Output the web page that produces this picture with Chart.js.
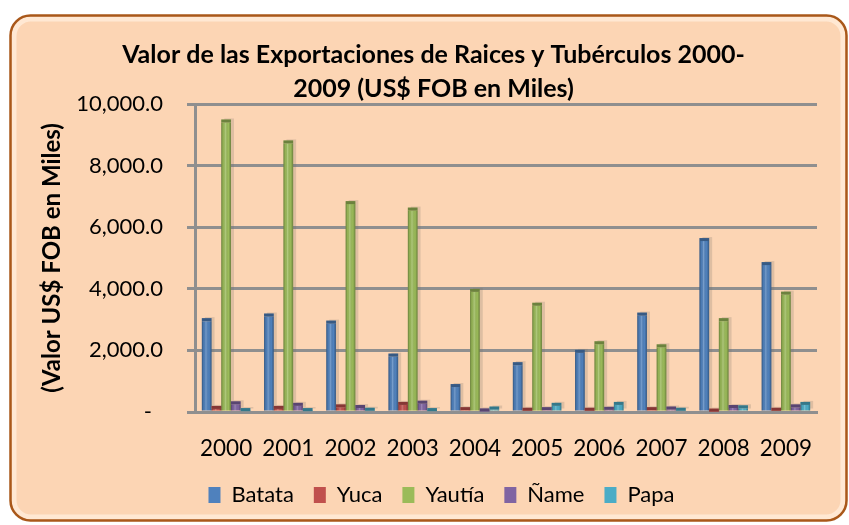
<!DOCTYPE html>
<html>
<head>
<meta charset="utf-8">
<script src="https://cdn.jsdelivr.net/npm/chart.js@4.4.1/dist/chart.umd.min.js"></script>
<style>
  html, body { margin: 0; padding: 0; background: #fff; }
  canvas { display: block; }
</style>
</head>
<body>
<canvas id="chart" width="849" height="525"></canvas>
<script>
const years = ["2000", "2001", "2002", "2003", "2004", "2005", "2006", "2007", "2008", "2009"];
const batata = [2950, 3100, 2870, 1800, 810, 1520, 1920, 3130, 5550, 4770];
const yuca = [100, 100, 150, 230, 60, 40, 40, 60, 15, 40];
const yautia = [9400, 8720, 6750, 6540, 3900, 3450, 2200, 2100, 2950, 3810];
const nyame = [250, 200, 130, 270, 20, 60, 70, 80, 130, 150];
const papa = [30, 30, 40, 30, 80, 200, 230, 40, 120, 230];
const yMax = 10000;
const yStep = 2000;

const FONT = "Lato";

// rounded peach frame behind everything
const frame = {
  id: "frame",
  beforeDraw(chart) {
    const ctx = chart.ctx;
    ctx.save();
    ctx.beginPath();
    ctx.roundRect(10.5, 15.5, 836, 505, 20);
    ctx.fillStyle = "#fcd5b4";
    ctx.fill();
    ctx.beginPath();
    ctx.roundRect(14, 19, 829, 498, 17);
    ctx.lineWidth = 5;
    ctx.strokeStyle = "rgba(255,234,214,0.9)";
    ctx.stroke();
    ctx.beginPath();
    ctx.roundRect(10.5, 15.5, 836, 505, 20);
    ctx.lineWidth = 2.5;
    ctx.strokeStyle = "#a9581a";
    ctx.stroke();
    ctx.restore();
  },
};

// fake 3d: soft shadow, cylinder shading and a darker top cap
const shade = {
  id: "shade",
  beforeDatasetsDraw(chart) {
    const ctx = chart.ctx;
    ctx.save();
    ctx.fillStyle = "rgba(120,110,100,0.22)";
    chart.data.datasets.forEach((ds, i) => {
      chart.getDatasetMeta(i).data.forEach((bar) => {
        const { x, y, base, width } = bar.getProps(["x", "y", "base", "width"], true);
        ctx.fillRect(x - width / 2 + 3, y - 4, width, base - y + 2);
      });
    });
    ctx.restore();
  },
  afterDatasetsDraw(chart) {
    const ctx = chart.ctx;
    ctx.save();
    chart.data.datasets.forEach((ds, i) => {
      chart.getDatasetMeta(i).data.forEach((bar) => {
        const { x, y, base, width } = bar.getProps(["x", "y", "base", "width"], true);
        const l = x - width / 2;
        const h = base - y;
        if (h > 0) {
          const g = ctx.createLinearGradient(l, 0, l + width, 0);
          g.addColorStop(0, "rgba(0,0,0,0.32)");
          g.addColorStop(0.2, "rgba(0,0,0,0.04)");
          g.addColorStop(0.42, "rgba(255,255,255,0.22)");
          g.addColorStop(0.75, "rgba(0,0,0,0)");
          g.addColorStop(1, "rgba(0,0,0,0.32)");
          ctx.fillStyle = g;
          ctx.fillRect(l, y, width, h);
        }
        // top face
        ctx.fillStyle = ds.backgroundColor;
        ctx.fillRect(l, y - 3, width, 3);
        ctx.fillStyle = "rgba(0,0,0,0.3)";
        ctx.fillRect(l, y - 3, width, 3);
      });
    });
    ctx.restore();
  },
};

const nudgeLegend = {
  id: "nudgeLegend",
  afterLayout(chart) {
    chart.legend.left += 8;
    chart.legend.right += 8;
  },
};

function series(label, data, color) {
  return {
    label,
    data,
    backgroundColor: color,
    borderWidth: 0,
    barPercentage: 1,
    categoryPercentage: 0.78,
  };
}

new Chart(document.getElementById("chart"), {
  type: "bar",
  data: {
    labels: years,
    datasets: [
      series("Batata", batata, "#4f81bd"),
      series("Yuca", yuca, "#c0504d"),
      series("Yautía", yautia, "#9bbb59"),
      series("Ñame", nyame, "#8064a2"),
      series("Papa", papa, "#4bacc6"),
    ],
  },
  options: {
    responsive: false,
    animation: false,
    layout: { padding: { left: 18, right: 0, top: 0, bottom: 9 } },
    plugins: {
      title: {
        display: true,
        text: ["Valor de las Exportaciones de Raices y Tubérculos 2000-", "2009 (US$ FOB en Miles)"],
        color: "#000",
        font: { family: FONT, size: 25, weight: "bold", lineHeight: 34 / 25 },
        padding: { top: 38, bottom: -2 },
      },
      legend: {
        position: "bottom",
        labels: {
          boxWidth: 12,
          boxHeight: 16,
          padding: 20,
          color: "#000",
          font: { family: FONT, size: 22 },
        },
      },
      tooltip: { enabled: false },
    },
    scales: {
      x: {
        grid: { display: false },
        border: { display: true, color: "#8f8f8f", width: 3 },
        ticks: { padding: 15, color: "#000", maxRotation: 0, font: { family: FONT, size: 22.5 } },
        afterFit: (s) => { s.height = 52; },
      },
      y: {
        min: 0,
        max: yMax,
        ticks: {
          stepSize: yStep,
          padding: 24,
          color: "#000",
          font: { family: FONT, size: 22 },
          callback: (v) => (v === 0 ? "-\u2002" : v.toLocaleString("en-US", { minimumFractionDigits: 1, maximumFractionDigits: 1 })),
        },
        grid: { color: "#8f8f8f", lineWidth: 3, tickLength: 8 },
        border: { display: true, color: "#8f8f8f", width: 3 },
        title: {
          display: true,
          text: "(Valor US$ FOB en Miles)",
          color: "#000",
          font: { family: FONT, size: 24, weight: "bold" },
          padding: { top: 20, bottom: 0 },
        },
        afterFit: (s) => { s.width = 177; },
      },
      yR: {
        type: "linear",
        position: "right",
        grid: { display: false },
        border: { display: false },
        ticks: { display: false },
        afterFit: (s) => { s.width = 32; },
      },
    },
  },
  plugins: [frame, shade, nudgeLegend],
});
</script>
</body>
</html>
